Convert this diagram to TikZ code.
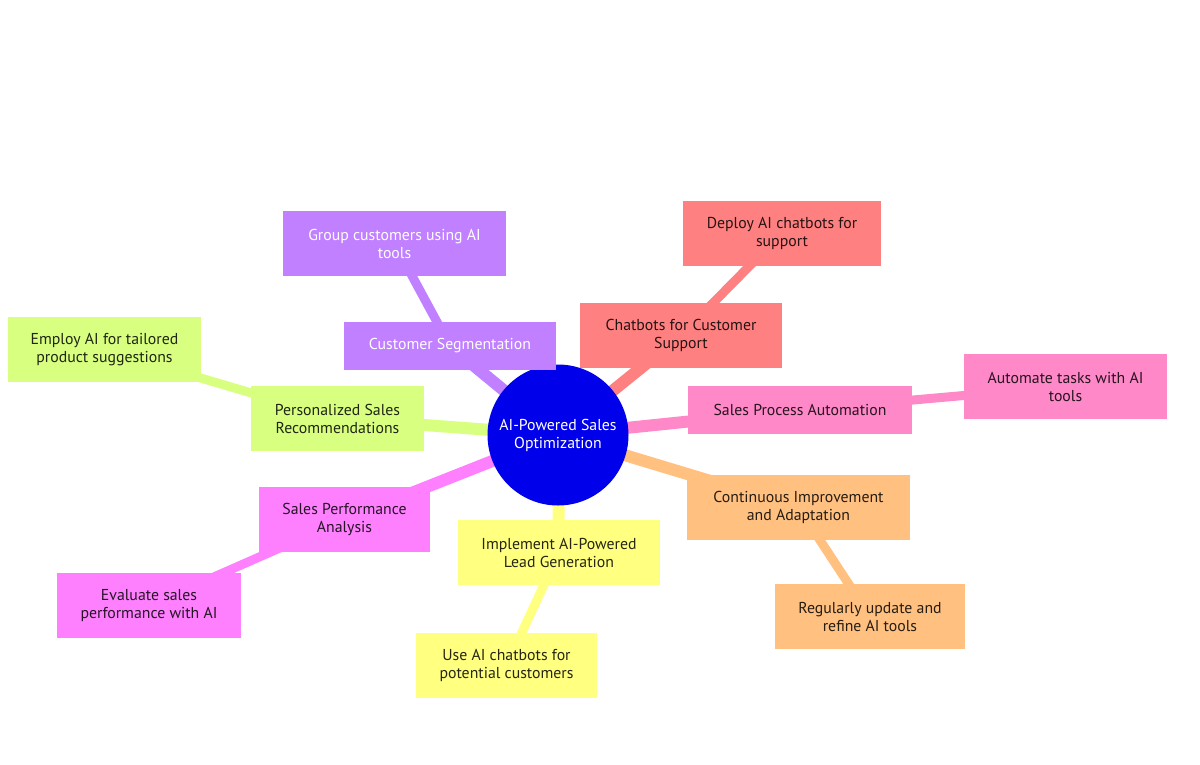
\documentclass[tikz,border=0pt]{standalone}
\usepackage{fontspec}
\setmainfont{PT Sans}
\usetikzlibrary{backgrounds}
\definecolor{rootblue}{RGB}{0,0,235}
\definecolor{segpurple}{RGB}{192,128,255}
\definecolor{chatred}{RGB}{255,128,128}
\definecolor{autopink}{RGB}{255,136,200}
\definecolor{imporange}{RGB}{255,192,128}
\definecolor{leadyellow}{RGB}{255,255,128}
\definecolor{perfmagenta}{RGB}{255,128,255}
\definecolor{persgreen}{RGB}{216,255,128}
\begin{document}
\begin{tikzpicture}[
    x=1pt, y=-1pt,
    every node/.style={font=\fontsize{15.8}{18}\selectfont, align=center},
    box/.style={rectangle, inner sep=0pt, minimum height=65pt},
    topic/.style={line width=12pt},
    leaf/.style={line width=9pt},
  ]
  \useasboundingbox (0,0) rectangle (1200,764);

  \node[circle, fill=rootblue, minimum size=141pt, inner sep=0pt, text=white]
    (root) at (558,435) {AI-Powered Sales\\Optimization};

  % branches
  \node[box, fill=segpurple, text=white, minimum width=212pt, minimum height=48pt]
    (segm) at (450,346) {Customer Segmentation};
  \node[box, fill=segpurple, text=white, minimum width=223pt]
    (group) at (394.5,243.5) {Group customers using AI\\tools};

  \node[box, fill=chatred, text=chatred!15!black, minimum width=202pt]
    (chat) at (681,335.5) {Chatbots for Customer\\Support};
  \node[box, fill=chatred, text=chatred!15!black, minimum width=198pt]
    (deploy) at (782,233) {Deploy AI chatbots for\\support};

  \node[box, fill=autopink, text=autopink!15!black, minimum width=224pt, minimum height=48pt]
    (spa) at (800,410) {Sales Process Automation};
  \node[box, fill=autopink, text=autopink!15!black, minimum width=203pt]
    (autom) at (1065.5,386.5) {Automate tasks with AI\\tools};

  \node[box, fill=imporange, text=imporange!15!black, minimum width=223pt]
    (cia) at (798.5,507.5) {Continuous Improvement\\and Adaptation};
  \node[box, fill=imporange, text=imporange!15!black, minimum width=190pt]
    (regular) at (870,616.5) {Regularly update and\\refine AI tools};

  \node[box, fill=leadyellow, text=leadyellow!15!black, minimum width=202pt]
    (lead) at (559,552.5) {Implement AI-Powered\\Lead Generation};
  \node[box, fill=leadyellow, text=leadyellow!15!black, minimum width=181pt]
    (usechat) at (506.5,665.5) {Use AI chatbots for\\potential customers};

  \node[box, fill=perfmagenta, text=perfmagenta!15!black, minimum width=171pt]
    (perf) at (344.5,519.5) {Sales Performance\\Analysis};
  \node[box, fill=perfmagenta, text=perfmagenta!15!black, minimum width=184pt]
    (evaluate) at (149,605.5) {Evaluate sales\\performance with AI};

  \node[box, fill=persgreen, text=persgreen!15!black, minimum width=173pt]
    (pers) at (337.5,418.5) {Personalized Sales\\Recommendations};
  \node[box, fill=persgreen, text=persgreen!15!black, minimum width=193pt]
    (employ) at (104.5,349.5) {Employ AI for tailored\\product suggestions};

  \begin{scope}[on background layer]
    \fill[white] (0,0) rectangle (1200,764);
    \draw[topic, segpurple] (root.center) -- (segm.center);
    \draw[leaf, segpurple] (segm.center) -- (group.center);
    \draw[topic, chatred] (root.center) -- (chat.center);
    \draw[leaf, chatred] (chat.center) -- (deploy.center);
    \draw[topic, autopink] (root.center) -- (spa.center);
    \draw[leaf, autopink] (spa.center) -- (autom.center);
    \draw[topic, imporange] (root.center) -- (cia.center);
    \draw[leaf, imporange] (cia.center) -- (regular.center);
    \draw[topic, leadyellow] (root.center) -- (lead.center);
    \draw[leaf, leadyellow] (lead.center) -- (usechat.center);
    \draw[topic, perfmagenta] (root.center) -- (perf.center);
    \draw[leaf, perfmagenta] (perf.center) -- (evaluate.center);
    \draw[topic, persgreen] (root.center) -- (pers.center);
    \draw[leaf, persgreen] (pers.center) -- (employ.center);
  \end{scope}
\end{tikzpicture}
\end{document}
